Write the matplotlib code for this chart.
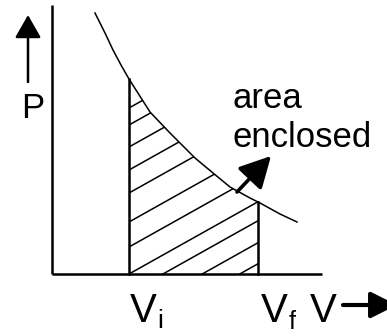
import numpy as np
import matplotlib
matplotlib.use('Agg')
import matplotlib.pyplot as plt
from matplotlib.patches import Polygon

plt.rcParams['font.family'] = ['Liberation Sans', 'DejaVu Sans']

# P-V curve (arbitrary units, origin at the axes corner)
curve_v = [43, 53, 61, 69, 77, 98, 118, 128, 143, 161, 178, 198, 208, 228, 245]
curve_p = [261, 241, 224, 209, 195, 162, 141, 131, 116, 101, 87, 76, 71, 60, 52]

v_i = 77
v_f = 206

# hatch lines: height where each one crosses the V_i line
hatch_offsets = [166, 149, 127, 104, 81, 52, 27, 0, -19, -41, -62]
hatch_slope = 0.56

fig = plt.figure(figsize=(3.87, 3.36), dpi=100)
ax = fig.add_axes([0, 0, 1, 1])
ax.set_xlim(-52, 335)
ax.set_ylim(-62, 274)
ax.axis('off')

# axes
ax.plot([0, 0], [0, 269], color='black', lw=1.8, solid_capstyle='butt')
ax.plot([0, 270], [0, 0], color='black', lw=1.8, solid_capstyle='butt')

# curve
ax.plot(curve_v, curve_p, color='black', lw=1.1)

p_vi = np.interp(v_i, curve_v, curve_p)
p_vf = np.interp(v_f, curve_v, curve_p)
ax.plot([v_i, v_i], [0, p_vi], color='black', lw=1.8)
ax.plot([v_f, v_f], [0, p_vf], color='black', lw=1.8)

# shaded region and hatch
inside = [(v, p) for v, p in zip(curve_v, curve_p) if v_i < v < v_f]
poly_pts = [(v_i, 0), (v_i, p_vi)] + inside + [(v_f, p_vf), (v_f, 0)]
region = Polygon(poly_pts, closed=True, facecolor='none', edgecolor='none')
ax.add_patch(region)
for c in hatch_offsets:
    xs = np.array([v_i - 200, v_f + 50])
    ys = c + hatch_slope * (xs - v_i)
    ln, = ax.plot(xs, ys, color='black', lw=1.1)
    ln.set_clip_path(region)

# P arrow and label
ax.annotate('', xy=(-24, 259), xytext=(-24, 192),
            arrowprops=dict(arrowstyle='-|>,head_length=1.4,head_width=0.8',
                            mutation_scale=10, lw=1.8, color='black',
                            shrinkA=0, shrinkB=0))
ax.text(-31, 156, 'P', fontsize=25, ha='left', va='baseline')

# V labels
ax.text(78, -48, 'V', fontsize=29, ha='left', va='baseline')
ax.text(105, -54, 'i', fontsize=19, ha='left', va='baseline')
ax.text(209, -48, 'V', fontsize=29, ha='left', va='baseline')
ax.text(237, -55, 'f', fontsize=18, ha='left', va='baseline')
ax.text(258, -48, 'V', fontsize=29, ha='left', va='baseline')
ax.annotate('', xy=(345, -31), xytext=(291, -31), annotation_clip=False,
            arrowprops=dict(arrowstyle='-|>,head_length=1.6,head_width=0.8',
                            mutation_scale=10, lw=3, color='black',
                            shrinkA=0, shrinkB=0))

# area enclosed
ax.text(181, 166, 'area', fontsize=25, ha='left', va='baseline')
ax.text(181, 127, 'enclosed', fontsize=25, ha='left', va='baseline')
ax.annotate('', xy=(219, 118), xytext=(185, 82),
            arrowprops=dict(arrowstyle='-|>,head_length=1.9,head_width=1.0',
                            mutation_scale=10, lw=2.6, color='black',
                            shrinkA=0, shrinkB=0))

fig.savefig('out.png', dpi=100)
